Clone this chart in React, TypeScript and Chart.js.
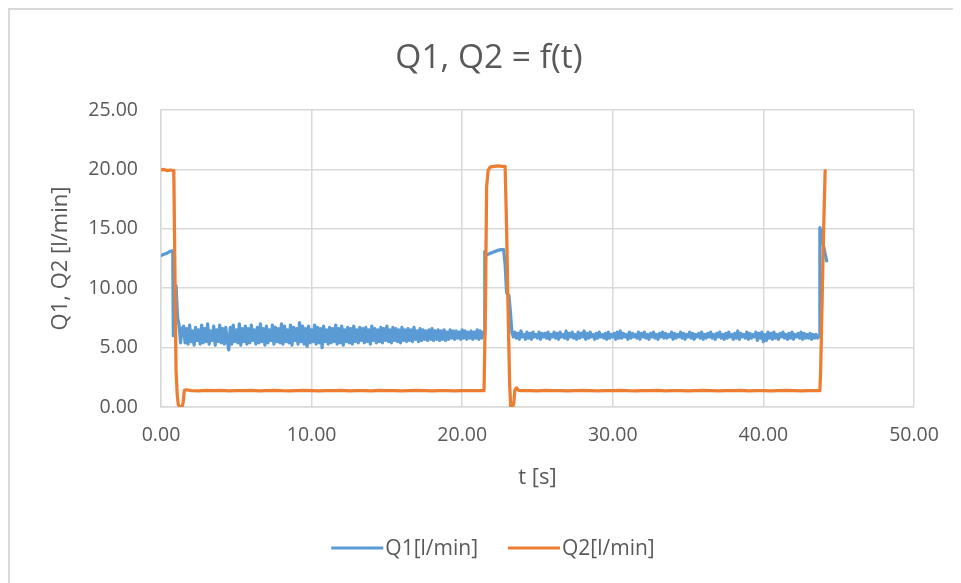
import { useEffect, useRef } from 'react';
import { Chart, registerables } from 'chart.js';

Chart.register(...registerables);

// ---- labels -------------------------------------------------------------
const TITLE = 'Q1, Q2 = f(t)';
const X_TITLE = 't [s]';
const Y_TITLE = 'Q1, Q2 [l/min]';
const SERIES_NAMES = ['Q1[l/min]', 'Q2[l/min]'];
const X_TICKS = [0, 10, 20, 30, 40, 50];
const Y_TICKS = [0, 5, 10, 15, 20, 25];

// ---- Q1 flow ------------------------------------------------------------
// start-up: (time, flow) pairs
const q1StartTime = [0, 0.2, 0.4, 0.6, 0.78, 0.82, 1.0, 1.1, 1.2, 1.3, 1.4];
const q1StartFlow = [12.75, 12.85, 12.95, 13.1, 13.15, 6.0, 10.2, 7.5, 6.9, 5.4, 6.6];

// first steady run, one reading every 0.1 s from 1.5 s
const Q1_RUN_A_START = 1.5;
const q1RunA = [
  6.8, 5.4, 6.6, 5.3, 6.9, 5.5, 6.4, 5.2, 6.7, 5.6,
  6.5, 5.3, 6.9, 5.4, 6.6, 5.5, 7.0, 5.3, 6.4, 5.6,
  6.8, 5.2, 6.5, 5.5, 6.9, 5.4, 6.6, 5.3, 6.7, 5.6,
  4.8, 6.7, 5.3, 6.9, 5.5, 6.5, 5.4, 7.0, 5.2, 6.6,
  5.5, 6.8, 5.3, 6.6, 5.4, 6.9, 5.6, 6.5, 5.3, 6.7,
  5.4, 7.0, 5.5, 6.6, 5.2, 6.8, 5.4, 6.5, 5.6, 6.9,
  5.3, 6.7, 5.5, 6.6, 5.4, 7.0, 5.3, 6.8, 5.5, 6.5,
  5.4, 6.9, 5.2, 6.7, 5.6, 6.6, 5.3, 7.1, 5.5, 6.8,
  5.3, 6.6, 5.1, 6.8, 5.4, 6.5, 5.5, 6.9, 5.3, 6.7,
  5.4, 6.6, 5.0, 6.8, 5.5, 6.5, 5.3, 6.7, 5.4, 6.6,
  5.5, 6.9, 5.3, 6.6, 5.4, 6.8, 5.2, 6.5, 5.5, 6.7,
  5.4, 6.6, 5.3, 6.8, 5.5, 6.5, 5.4, 6.7, 5.6, 6.6,
  5.4, 6.7, 5.5, 6.5, 5.3, 6.8, 5.6, 6.6, 5.4, 6.5,
  5.5, 6.7, 5.4, 6.6, 5.6, 6.8, 5.5, 6.5, 5.4, 6.7,
  5.6, 6.6, 5.5, 6.5, 5.4, 6.7, 5.6, 6.5, 5.5, 6.6,
  5.6, 6.5, 5.5, 6.7, 5.7, 6.4, 5.5, 6.6, 5.6, 6.5,
  5.7, 6.4, 5.6, 6.5, 5.7, 6.6, 5.6, 6.4, 5.7, 6.5,
  5.6, 6.4, 5.7, 6.5, 5.6, 6.3, 5.7, 6.5, 5.8, 6.4,
  5.7, 6.4, 5.8, 6.3, 5.7, 6.5, 5.8, 6.4, 5.7, 6.3,
  5.8, 6.4, 5.7, 6.3, 5.8, 6.5, 5.7, 6.4, 5.8, 6.3,
];

// second pulse: (time, flow) pairs
const q1PulseTime = [21.45, 21.5, 21.6, 21.8, 22.0, 22.2, 22.4, 22.6, 22.75, 22.85, 22.95, 23.1, 23.2, 23.3, 23.4];
const q1PulseFlow = [6.1, 13.1, 12.8, 12.9, 13.0, 13.1, 13.2, 13.25, 13.25, 12.0, 9.6, 9.4, 8.0, 6.3, 5.9];

// second steady run, one reading every 0.1 s from 23.5 s
const Q1_RUN_B_START = 23.5;
const q1RunB = [
  6.3, 5.8, 6.2, 5.7, 6.4, 5.9, 6.1, 5.7, 6.3, 5.8,
  6.2, 5.7, 6.3, 5.9, 6.1, 5.8, 6.3, 5.7, 6.2, 5.9,
  6.2, 5.8, 6.3, 5.7, 6.1, 5.9, 6.3, 5.8, 6.2, 5.7,
  6.3, 5.9, 6.1, 5.8, 6.4, 5.7, 6.2, 5.9, 6.3, 5.8,
  6.1, 5.7, 6.3, 5.8, 6.2, 5.9, 6.4, 5.7, 6.2, 5.8,
  6.3, 5.9, 6.1, 5.7, 6.2, 5.8, 6.3, 5.9, 6.1, 5.8,
  6.2, 5.7, 6.3, 5.8, 6.1, 5.9, 6.2, 5.7, 6.3, 5.8,
  6.4, 5.8, 6.2, 5.9, 6.1, 5.7, 6.3, 5.8, 6.2, 5.9,
  6.1, 5.8, 6.3, 5.7, 6.2, 5.9, 6.3, 5.8, 6.1, 5.7,
  6.2, 5.9, 6.3, 5.8, 6.1, 5.7, 6.2, 5.9, 6.3, 5.8,
  6.2, 5.8, 6.1, 5.9, 6.3, 5.7, 6.2, 5.8, 6.1, 5.9,
  6.3, 5.8, 6.2, 5.7, 6.1, 5.9, 6.3, 5.8, 6.2, 5.7,
  6.1, 5.9, 6.2, 5.8, 6.3, 5.7, 6.1, 5.8, 6.2, 5.9,
  6.3, 5.8, 6.1, 5.7, 6.2, 5.9, 6.3, 5.8, 6.1, 5.7,
  6.2, 5.8, 6.3, 5.9, 6.1, 5.7, 6.2, 5.8, 6.4, 5.7,
  6.2, 5.9, 6.1, 5.8, 6.3, 5.7, 6.2, 5.8, 6.1, 5.9,
  6.3, 5.6, 6.2, 5.8, 6.3, 5.5, 6.1, 5.6, 6.3, 5.8,
  6.2, 5.7, 6.3, 5.8, 6.1, 5.7, 6.2, 5.9, 6.3, 5.8,
  6.1, 5.7, 6.2, 5.8, 6.3, 5.7, 6.1, 5.9, 6.2, 5.8,
  6.3, 5.7, 6.2, 5.8, 6.1, 5.8, 6.2, 5.7, 6.1, 5.8,
  6.1, 5.8,
];

// end of record: (time, flow) pairs
const q1EndTime = [43.7, 43.75, 44.1, 44.2];
const q1EndFlow = [6.0, 15.1, 12.9, 12.3];

const Q1_STEP = 0.1;

// ---- Q2 flow ------------------------------------------------------------
const q2DropTime = [0, 0.2, 0.4, 0.6, 0.85, 0.92, 1.0, 1.08, 1.15, 1.25, 1.4, 1.47, 1.55, 1.7];
const q2DropFlow = [19.95, 20.0, 19.9, 19.95, 19.9, 12.0, 3.0, 1.0, 0.2, 0.0, 0.0, 0.4, 1.4, 1.45];

// low level, one reading every 0.5 s from 2.0 s
const Q2_LOW_A_START = 2.0;
const q2LowA = [
  1.38, 1.36, 1.39, 1.37, 1.40, 1.36, 1.38, 1.37, 1.39, 1.36,
  1.38, 1.40, 1.37, 1.36, 1.38, 1.39, 1.37, 1.36, 1.38, 1.37,
  1.39, 1.36, 1.37, 1.38, 1.36, 1.39, 1.37, 1.38, 1.36, 1.37,
  1.39, 1.38, 1.36, 1.37, 1.38, 1.36, 1.37, 1.38, 1.37,
];

const q2PulseTime = [21.45, 21.55, 21.62, 21.72, 21.85, 22.1, 22.4, 22.65, 22.85, 22.95, 23.05, 23.15, 23.22, 23.35, 23.42, 23.5, 23.6, 23.75];
const q2PulseFlow = [1.37, 9.0, 18.5, 19.9, 20.2, 20.25, 20.3, 20.25, 20.25, 15.0, 8.0, 2.0, 0.0, 0.0, 0.3, 1.4, 1.6, 1.4];

// low level, one reading every 0.5 s from 24.0 s
const Q2_LOW_B_START = 24.0;
const q2LowB = [
  1.37, 1.38, 1.36, 1.39, 1.37, 1.38, 1.36, 1.37, 1.39, 1.38,
  1.36, 1.37, 1.38, 1.40, 1.37, 1.36, 1.38, 1.37, 1.39, 1.36,
  1.38, 1.37, 1.36, 1.38, 1.39, 1.37, 1.36, 1.38, 1.37, 1.39,
  1.36, 1.38, 1.37, 1.36, 1.38, 1.39, 1.37, 1.36, 1.38, 1.37,
];

const q2RiseTime = [43.75, 43.8, 43.9, 44.0, 44.1];
const q2RiseFlow = [1.37, 3.0, 9.0, 15.0, 19.9];

const Q2_STEP = 0.5;

// ---- styling ------------------------------------------------------------
const FONT = "'Open Sans', sans-serif";
const TEXT_COLOR = '#595959';
const GRID_COLOR = '#d9d9d9';
const Q1_COLOR = '#5b9bd5';
const Q2_COLOR = '#ed7d31';
const COLORS = [Q1_COLOR, Q2_COLOR];

type Pt = { x: number; y: number };

const pairs = (t: number[], v: number[]): Pt[] => t.map((x, i) => ({ x, y: v[i] }));
const sampled = (start: number, step: number, v: number[]): Pt[] =>
  v.map((y, i) => ({ x: Math.round((start + i * step) * 100) / 100, y }));

const q1Points: Pt[] = [
  ...pairs(q1StartTime, q1StartFlow),
  ...sampled(Q1_RUN_A_START, Q1_STEP, q1RunA),
  ...pairs(q1PulseTime, q1PulseFlow),
  ...sampled(Q1_RUN_B_START, Q1_STEP, q1RunB),
  ...pairs(q1EndTime, q1EndFlow),
];

const q2Points: Pt[] = [
  ...pairs(q2DropTime, q2DropFlow),
  ...sampled(Q2_LOW_A_START, Q2_STEP, q2LowA),
  ...pairs(q2PulseTime, q2PulseFlow),
  ...sampled(Q2_LOW_B_START, Q2_STEP, q2LowB),
  ...pairs(q2RiseTime, q2RiseFlow),
];

// chart title, axis titles and legend drawn straight onto the canvas
const chartText = {
  id: 'chartText',
  afterDraw(chart: Chart) {
    const { ctx, chartArea } = chart;
    ctx.save();
    ctx.fillStyle = TEXT_COLOR;
    ctx.textBaseline = 'middle';
    ctx.textAlign = 'center';

    ctx.font = `33.5px ${FONT}`;
    ctx.fillText(TITLE, 479, 48);

    ctx.font = `22px ${FONT}`;
    ctx.fillText(X_TITLE, (chartArea.left + chartArea.right) / 2, chartArea.bottom + 71);

    ctx.save();
    ctx.translate(51, (chartArea.top + chartArea.bottom) / 2);
    ctx.rotate(-Math.PI / 2);
    ctx.fillText(Y_TITLE, 0, 0);
    ctx.restore();

    // legend
    ctx.font = `21px ${FONT}`;
    ctx.textAlign = 'left';
    const lineLen = 52;
    const gap = 2;
    const spacing = 30;
    const widths = SERIES_NAMES.map((s) => ctx.measureText(s).width);
    const total = widths.reduce((a, w) => a + lineLen + gap + w, 0) + spacing;
    let x = 483 - total / 2;
    const y = 538;
    SERIES_NAMES.forEach((name, i) => {
      ctx.strokeStyle = COLORS[i];
      ctx.lineWidth = 3;
      ctx.beginPath();
      ctx.moveTo(x, y);
      ctx.lineTo(x + lineLen, y);
      ctx.stroke();
      ctx.fillText(name, x + lineLen + gap, y + 1);
      x += lineLen + gap + widths[i] + spacing;
    });
    ctx.restore();
  },
};

export default function App() {
  const canvasRef = useRef<HTMLCanvasElement>(null);

  useEffect(() => {
    document.documentElement.style.overflow = 'hidden';
    document.body.style.overflow = 'hidden';
    const canvas = canvasRef.current;
    if (!canvas) return;

    const tickFont = { family: FONT, size: 19.5 };
    const lineStyle = {
      borderWidth: 3.25,
      pointRadius: 0,
      tension: 0,
      borderJoinStyle: 'round' as const,
      borderCapStyle: 'round' as const,
    };

    const chart = new Chart(canvas, {
      type: 'line',
      data: {
        datasets: [
          {
            label: SERIES_NAMES[0],
            data: q1Points,
            borderColor: Q1_COLOR,
            backgroundColor: Q1_COLOR,
            order: 2,
            ...lineStyle,
          },
          {
            label: SERIES_NAMES[1],
            data: q2Points,
            borderColor: Q2_COLOR,
            backgroundColor: Q2_COLOR,
            order: 1,
            ...lineStyle,
          },
        ],
      },
      options: {
        animation: false,
        responsive: false,
        parsing: false,
        layout: { padding: { top: 100, right: 47, bottom: 0, left: 0 } },
        plugins: {
          legend: { display: false },
          title: { display: false },
          tooltip: { enabled: false },
        },
        scales: {
          x: {
            type: 'linear',
            min: X_TICKS[0],
            max: X_TICKS[X_TICKS.length - 1],
            afterBuildTicks: (s: any) => {
              s.ticks = X_TICKS.map((value) => ({ value }));
            },
            afterFit: (s: any) => {
              s.height = 176;
            },
            ticks: {
              color: TEXT_COLOR,
              font: tickFont,
              padding: 17,
              maxRotation: 0,
              autoSkip: false,
              callback: (v: any) => Number(v).toFixed(2),
            },
            grid: { color: GRID_COLOR, lineWidth: 1.5, drawTicks: false },
            border: { color: GRID_COLOR, width: 1.5 },
          },
          y: {
            type: 'linear',
            min: Y_TICKS[0],
            max: Y_TICKS[Y_TICKS.length - 1],
            afterBuildTicks: (s: any) => {
              s.ticks = Y_TICKS.map((value) => ({ value }));
            },
            afterFit: (s: any) => {
              s.width = 151;
            },
            ticks: {
              color: TEXT_COLOR,
              font: tickFont,
              padding: 23,
              autoSkip: false,
              callback: (v: any) => Number(v).toFixed(2),
            },
            grid: { color: GRID_COLOR, lineWidth: 1.5, drawTicks: false },
            border: { color: GRID_COLOR, width: 1.5 },
          },
        },
      },
      plugins: [chartText],
    });

    return () => chart.destroy();
  }, []);

  return (
    <div
      style={{
        position: 'relative',
        width: 980,
        height: 600,
        boxSizing: 'border-box',
        borderTop: `2px solid ${GRID_COLOR}`,
        borderLeft: `2px solid ${GRID_COLOR}`,
        background: '#ffffff',
      }}
    >
      <canvas
        ref={canvasRef}
        width={951}
        height={573}
        style={{ display: 'block', width: 951, height: 573 }}
      />
    </div>
  );
}
